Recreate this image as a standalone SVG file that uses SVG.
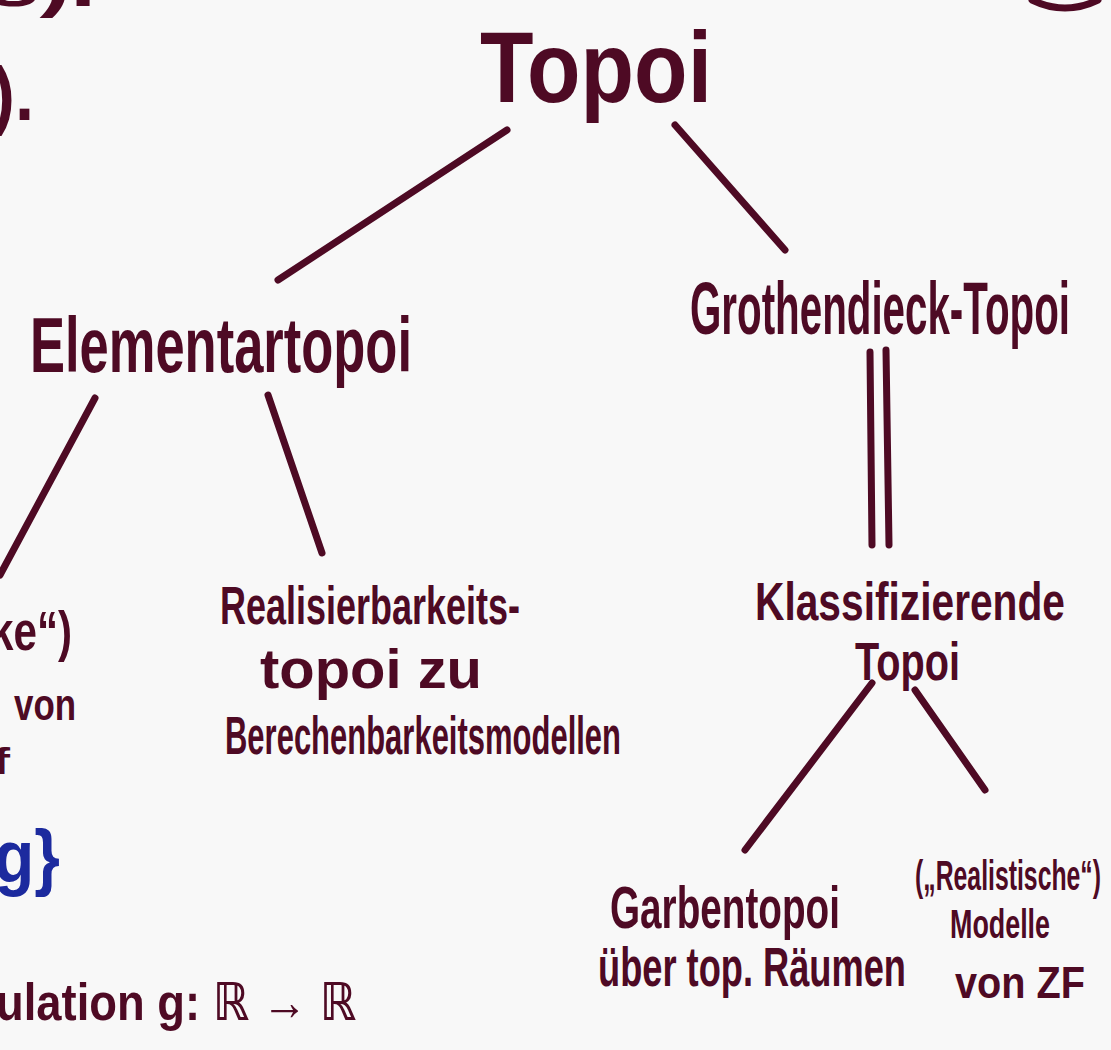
<svg xmlns="http://www.w3.org/2000/svg" width="1111" height="1050" viewBox="0 0 1111 1050">
<style>
.ink{fill:#4e0a24;font-family:"Liberation Sans","DejaVu Sans",sans-serif;font-weight:bold;}
.blue{fill:#1c2a9e;font-family:"Liberation Sans","DejaVu Sans",sans-serif;font-weight:bold;}
.ln{stroke:#4e0a24;stroke-width:7;stroke-linecap:round;fill:none;}
</style>
<rect width="1111" height="1050" fill="#f8f8f8"/>
<g id="fragments">
<text class="ink" x="-12" y="6" font-size="60" textLength="108" lengthAdjust="spacingAndGlyphs">s).</text>
<text class="ink" x="-8" y="120" font-size="76" textLength="42" lengthAdjust="spacingAndGlyphs">).</text>
<text class="ink" x="-10" y="650" font-size="56" textLength="82" lengthAdjust="spacingAndGlyphs">ke“)</text>
<text class="ink" x="14" y="720" font-size="44" textLength="62" lengthAdjust="spacingAndGlyphs">von</text>
<text class="ink" x="-8" y="774" font-size="36" textLength="18" lengthAdjust="spacingAndGlyphs">f</text>
<text class="blue" x="-6" y="882" font-size="74" textLength="66" lengthAdjust="spacingAndGlyphs">g}</text>
<text class="ink" x="-4" y="1020" font-size="52" textLength="360" lengthAdjust="spacingAndGlyphs">ulation g: ℝ → ℝ</text>
<path class="ln" d="M1032,0 Q1065,16 1098,0"/>
</g>
<g id="node-topoi"><text class="ink" x="480" y="102" font-size="100" textLength="232" lengthAdjust="spacingAndGlyphs">Topoi</text></g>
<g id="node-elementartopoi"><text class="ink" x="30" y="372" font-size="78" textLength="382" lengthAdjust="spacingAndGlyphs">Elementartopoi</text></g>
<g id="node-grothendieck"><text class="ink" x="690" y="334" font-size="74" textLength="380" lengthAdjust="spacingAndGlyphs">Grothendieck-Topoi</text></g>
<g id="node-realisierbarkeit">
<text class="ink" x="220" y="624" font-size="54" textLength="300" lengthAdjust="spacingAndGlyphs">Realisierbarkeits-</text>
<text class="ink" x="260" y="688" font-size="56" textLength="222" lengthAdjust="spacingAndGlyphs">topoi zu</text>
<text class="ink" x="225" y="754" font-size="54" textLength="396" lengthAdjust="spacingAndGlyphs">Berechenbarkeitsmodellen</text>
</g>
<g id="node-klassifizierend">
<text class="ink" x="755" y="620" font-size="54" textLength="310" lengthAdjust="spacingAndGlyphs">Klassifizierende</text>
<text class="ink" x="855" y="680" font-size="54" textLength="105" lengthAdjust="spacingAndGlyphs">Topoi</text>
</g>
<g id="node-garbentopoi">
<text class="ink" x="610" y="928" font-size="60" textLength="230" lengthAdjust="spacingAndGlyphs">Garbentopoi</text>
<text class="ink" x="598" y="986" font-size="56" textLength="308" lengthAdjust="spacingAndGlyphs">über top. Räumen</text>
</g>
<g id="node-modelle">
<text class="ink" x="915" y="890" font-size="42" textLength="186" lengthAdjust="spacingAndGlyphs">(„Realistische“)</text>
<text class="ink" x="950" y="938" font-size="40" textLength="100" lengthAdjust="spacingAndGlyphs">Modelle</text>
<text class="ink" x="955" y="998" font-size="44" textLength="130" lengthAdjust="spacingAndGlyphs">von ZF</text>
</g>
<g id="connectors">
<line class="ln" x1="507" y1="130" x2="278" y2="280"/>
<line class="ln" x1="675" y1="125" x2="785" y2="250"/>
<line class="ln" x1="95" y1="398" x2="0" y2="575"/>
<line class="ln" x1="268" y1="395" x2="322" y2="553"/>
<line class="ln" x1="870" y1="352" x2="872" y2="545"/>
<line class="ln" x1="886" y1="350" x2="889" y2="545"/>
<line class="ln" x1="872" y1="683" x2="745" y2="850"/>
<line class="ln" x1="915" y1="690" x2="985" y2="790"/>
</g>
</svg>
